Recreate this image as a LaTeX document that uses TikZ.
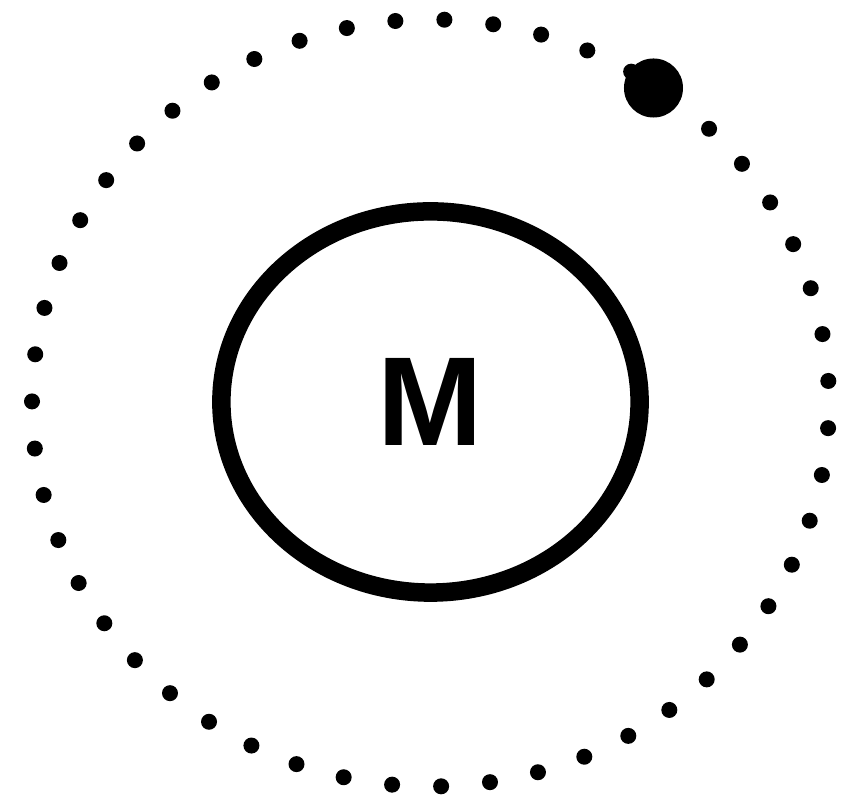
\documentclass[tikz,border=0pt]{standalone}
\usepackage{fontspec}
\newfontfamily\labelfont{Liberation Sans}
\usetikzlibrary{shapes.geometric}

\begin{document}
\begin{tikzpicture}[x=0.01cm, y=-0.01cm,
  orbitdot/.style={circle, fill=black, inner sep=0pt, minimum size=0.16cm},
  nucleus/.style={ellipse, draw=black, line width=0.185cm, inner sep=0pt,
    minimum width=4.18cm, minimum height=3.81cm,
    font=\labelfont\bfseries\fontsize{36pt}{36pt}\selectfont},
  electron/.style={circle, fill=black, inner sep=0pt, minimum size=0.59cm}
]
\useasboundingbox (0,0) rectangle (859,798);

% orbit
\foreach \k in {0,...,50}
  \node[orbitdot] (d\k) at ({430.5+398.5*cos(88+\k*7.0588)},{403-383.5*sin(88+\k*7.0588)}) {};

% nucleus and electron
\node[nucleus] (M) at (430.5,402) {M};
\node[electron] (e) at (653.5,88) {};

\end{tikzpicture}
\end{document}
